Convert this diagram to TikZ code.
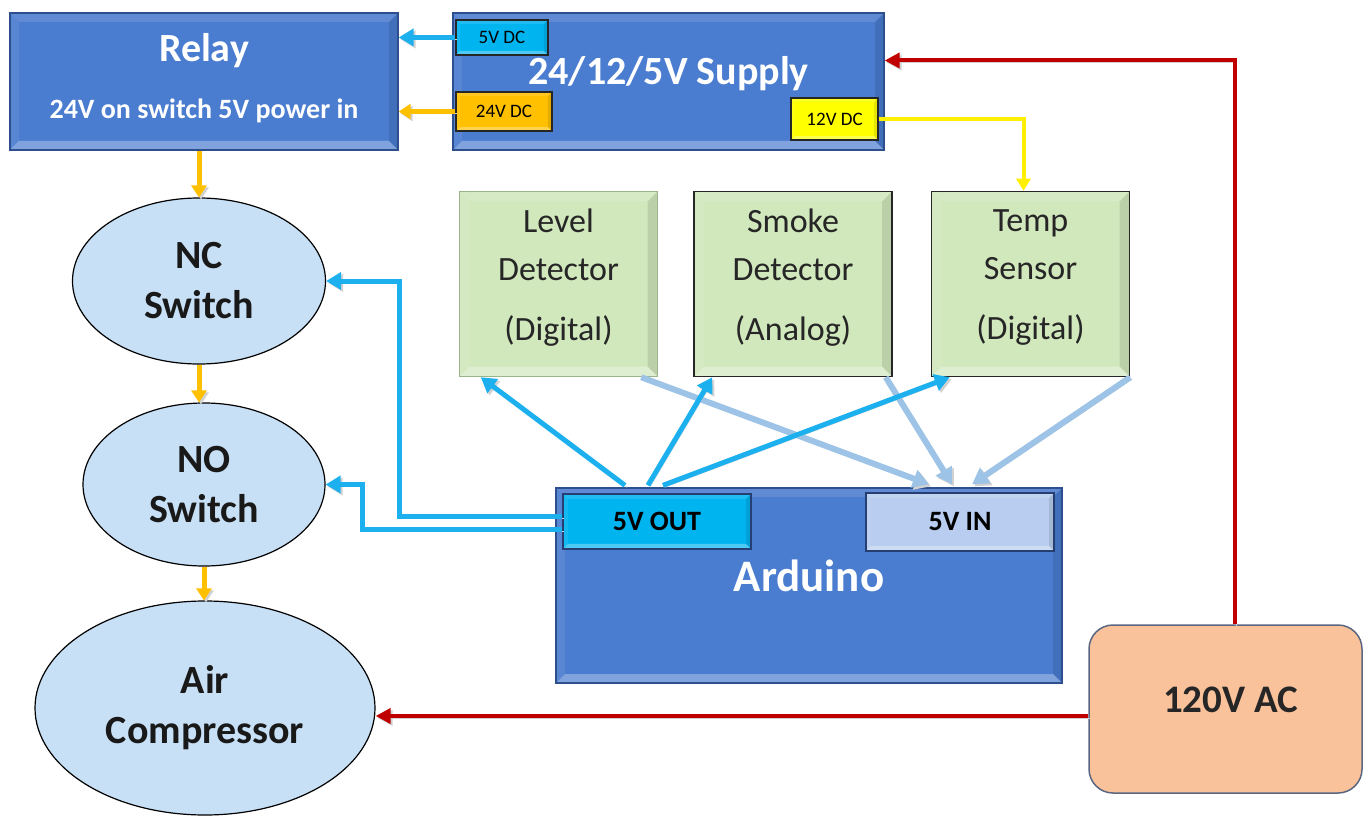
\documentclass[tikz,border=0pt]{standalone}
\usepackage{fontspec}
\setmainfont{Carlito}
\usetikzlibrary{calc,positioning,shapes.geometric,arrows.meta}
\definecolor{boxblue}{HTML}{4A7CCF}
\definecolor{boxedge}{HTML}{2E4F8E}
\definecolor{portcyan}{HTML}{00B4F0}
\definecolor{portorange}{HTML}{FFC000}
\definecolor{portyellow}{HTML}{FFFF00}
\definecolor{sensgreen}{HTML}{D1E8BD}
\definecolor{lvledge}{HTML}{9DB58C}
\definecolor{ovalblue}{HTML}{C8E0F6}
\definecolor{peach}{HTML}{F9C29A}
\definecolor{acedge}{HTML}{5B6680}
\definecolor{acred}{HTML}{C00000}
\definecolor{wirecyan}{HTML}{1CB1EE}
\definecolor{wirepale}{HTML}{9DC3E6}
\definecolor{wireyellow}{HTML}{FFEF00}
\definecolor{inblue}{HTML}{B8CDEF}

\begin{document}
\begin{tikzpicture}[x=1pt,y=-1pt,
  bevel/.style={path picture={
    \fill[white,opacity=.3] (path picture bounding box.south west) -- (path picture bounding box.south east)
      -- ([shift={(-#1,#1)}]path picture bounding box.south east) -- ([shift={(#1,#1)}]path picture bounding box.south west) -- cycle;
    \fill[white,opacity=.12] (path picture bounding box.north west) -- (path picture bounding box.north east)
      -- ([shift={(-#1,-#1)}]path picture bounding box.north east) -- ([shift={(#1,-#1)}]path picture bounding box.north west) -- cycle;
    \fill[white,opacity=.08] (path picture bounding box.north west) -- (path picture bounding box.south west)
      -- ([shift={(#1,#1)}]path picture bounding box.south west) -- ([shift={(#1,-#1)}]path picture bounding box.north west) -- cycle;
    \fill[black,opacity=.1] (path picture bounding box.north east) -- (path picture bounding box.south east)
      -- ([shift={(-#1,#1)}]path picture bounding box.south east) -- ([shift={(-#1,-#1)}]path picture bounding box.north east) -- cycle;
  }},
  shadowed/.style={preaction={draw=black!18, transform canvas={shift={(2pt,-2pt)}}}},
  block/.style={rectangle, draw=boxedge, line width=1.3pt, fill=boxblue, inner sep=0pt, bevel=9pt},
  port/.style={rectangle, draw=black!85, line width=1.2pt, inner sep=0pt, bevel=4pt,
    font=\fontsize{19}{22}\selectfont},
  pin/.style={rectangle, draw=boxedge!80!black, line width=1.2pt, inner sep=0pt, bevel=5pt,
    minimum width=188pt, font=\bfseries\fontsize{28}{32}\selectfont},
  sensor/.style={rectangle, draw=black!85, line width=1.5pt, fill=sensgreen, inner sep=0pt, bevel=10pt,
    minimum width=198pt, minimum height=185pt, align=center, text=black!85, text depth=19pt,
    font=\fontsize{34}{48}\selectfont},
  oval/.style={ellipse, draw=black, line width=1.2pt, fill=ovalblue, inner sep=0pt, align=center,
    text=black!90, font=\bfseries\fontsize{40}{50}\selectfont},
  title/.style={anchor=base, inner sep=0pt, text=white},
  cyanwire/.style={wirecyan, line width=5pt, shadowed, -{Triangle[length=15pt,width=17pt]}},
  palewire/.style={wirepale, line width=6pt, shadowed, -{Triangle[length=16pt,width=18pt]}},
  orangewire/.style={portorange, line width=5pt, shadowed, -{Triangle[length=12pt,width=15pt]}},
  yellowwire/.style={wireyellow, line width=4pt, -{Triangle[length=12pt,width=14pt]}},
  redwire/.style={acred, line width=4pt, shadowed, -{Triangle[length=15pt,width=15pt]}}]
\useasboundingbox (0,0) rectangle (1364,818);
\fill[white] (0,0) rectangle (1364,818);

% blocks
\node[block, minimum width=388pt, minimum height=137pt] (relay) at (204,81.5) {};
\node[block, minimum width=431pt, minimum height=137pt] (sup) at (668.5,81.5) {};
\node[block, minimum width=506pt, minimum height=195pt] (ard) at (809,585.5) {};
\node[rectangle, rounded corners=24pt, draw=acedge, line width=1.5pt, fill=peach, inner sep=0pt,
  minimum width=273pt, minimum height=168pt] (ac) at (1225.5,709) {};

\node[title, font=\bfseries\fontsize{40}{44}\selectfont] (relayt) at ($(relay.north)+(0,49)$) {Relay};
\node[title, font=\bfseries\fontsize{28}{32}\selectfont] (relays) at ($(relay.north)+(0,106)$) {24V on switch 5V power in};
\node[title, font=\bfseries\fontsize{40}{44}\selectfont] (supt) at ($(sup.north)+(0,72)$) {24/12/5V Supply};
\node[title, font=\bfseries\fontsize{45}{50}\selectfont] (ardt) at ($(ard.north)+(0,104)$) {Arduino};
\node[title, text=black!85, font=\bfseries\fontsize{39}{44}\selectfont] (act) at ($(ac.north)+(5,88)$) {120V AC};

% ports
\node[port, fill=portcyan, minimum width=92pt, minimum height=35pt] (p5) [below right=7pt and 3pt of sup.north west] {5V DC};
\node[port, fill=portorange, minimum width=96pt, minimum height=39pt] (p24) [above right=19pt and 3pt of sup.south west] {24V DC};
\node[port, fill=portyellow, minimum width=87pt, minimum height=42pt] (p12) [above left=10pt and 6pt of sup.south east] {12V DC};
\node[pin, fill=portcyan, minimum height=55pt] (vout) [below right=6pt and 7pt of ard.north west] {5V OUT};
\node[pin, fill=inblue, minimum height=58pt] (vin) [below left=5pt and 8pt of ard.north east] {5V IN};

% switches
\node[oval, minimum width=253pt, minimum height=166pt] (nc) at (199,281) {NC\\Switch};
\node[oval, minimum width=242pt, minimum height=163pt] (no) at (204,484.5) {NO\\Switch};
\node[oval, minimum width=340pt, minimum height=214pt] (air) at (205,708) {Air\\Compressor};

% sensors
\node[sensor, draw=lvledge] (lvl) at (558.5,284) {Level\\Detector\\[12pt](Digital)};
\node[sensor] (smk) [right=35pt of lvl] {Smoke\\Detector\\[12pt](Analog)};
\node[sensor] (tmp) [right=38pt of smk] {Temp\\Sensor\\[12pt](Digital)};

% wires
\draw[cyanwire] (p5.west) -- (p5.west -| relay.east);
\draw[orangewire] (p24.west) -- (p24.west -| relay.east);
\draw[yellowwire] (p12.east) -| ([xshift=-7pt]tmp.north);
\draw[redwire] ([xshift=9pt]ac.north) |- ([yshift=21pt]sup.east);
\draw[redwire] ([yshift=-7pt]ac.west) -- ([yshift=-7pt]ac.west -| air.east);
\draw[orangewire] (relay.south -| nc.north) -- (nc.north);
\draw[orangewire] (nc.south) -- (nc.south |- no.north);
\draw[orangewire] (no.south) -- (no.south |- air.north);
\draw[cyanwire] ([yshift=5pt]vout.west) -| ($(nc.east)+(73,0)$) -- (nc.east);
\draw[cyanwire] ([yshift=-8pt]vout.west) -| ($(no.east)+(37,0)$) -- (no.east);
\draw[palewire] ($(lvl.south east)+(-17,0)$) -- ($(vin.north)+(-31,-8)$);
\draw[palewire] ($(smk.south east)+(-7,0)$) -- ($(vin.north)+(-8,-8)$);
\draw[palewire] (tmp.south east) -- ($(vin.north)+(12,-8)$);
\draw[cyanwire] ($(vout.north)+(-32,-8)$) -- ($(lvl.south west)+(22,0)$);
\draw[cyanwire] ($(vout.north)+(-9,-8)$) -- ($(smk.south west)+(19,0)$);
\draw[cyanwire] ($(vout.north)+(6,-8)$) -- ($(tmp.south west)+(19,0)$);
\end{tikzpicture}
\end{document}
